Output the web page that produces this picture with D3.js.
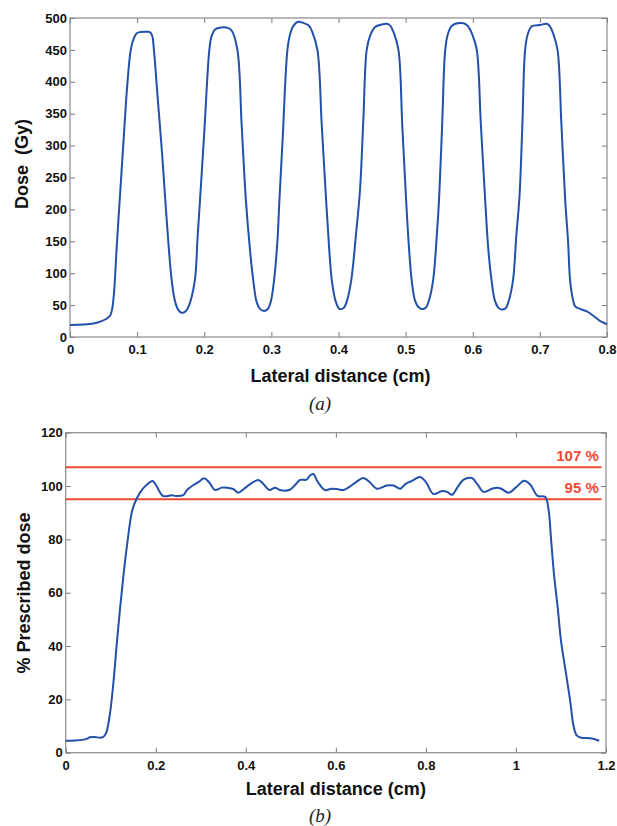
<!DOCTYPE html>
<html>
<head>
<meta charset="utf-8">
<script src="https://cdn.jsdelivr.net/npm/d3@7"></script>
<style>
  body { margin: 0; background: #fff; }
  svg { display: block; }
  .tick text { font-family: "Liberation Sans", Arial, sans-serif; font-weight: bold; font-size: 13px; fill: #111; }
  .tick line { stroke: #7a7a7a; }
  .axis-title { font-family: "Liberation Sans", Arial, sans-serif; font-weight: bold; font-size: 18px; fill: #111; }
  .caption { font-family: "Liberation Serif", "Times New Roman", serif; font-style: italic; font-size: 19px; fill: #222; }
  .limit-label { font-family: "Liberation Sans", Arial, sans-serif; font-weight: bold; font-size: 15px; fill: #ee4a33; }
</style>
</head>
<body>
<svg id="chart" width="617" height="826"></svg>
<script>
// (a) dose profile across the six beamlets
const doseX = [0, 0.02, 0.035, 0.045, 0.055, 0.06, 0.063, 0.066, 0.0695, 0.075, 0.0805, 0.0854, 0.0905, 0.095, 0.0994,
  0.105, 0.113, 0.119, 0.1225, 0.125, 0.131, 0.137, 0.1416, 0.1475, 0.1515, 0.156, 0.161, 0.1664, 0.172, 0.1775, 0.186, 0.19,
  0.1937, 0.2, 0.2076, 0.211, 0.216, 0.225, 0.235, 0.241, 0.2494, 0.2557, 0.262, 0.268, 0.273, 0.278, 0.283,
  0.288, 0.294, 0.299, 0.304, 0.309, 0.312, 0.317, 0.3239, 0.328, 0.333, 0.34, 0.348, 0.356, 0.361, 0.3686,
  0.375, 0.3815, 0.386, 0.39, 0.3955, 0.4014, 0.408, 0.413, 0.419, 0.426, 0.432, 0.437, 0.442, 0.447, 0.4545, 0.465,
  0.472, 0.477, 0.482, 0.4893, 0.495, 0.5007, 0.505, 0.509, 0.514, 0.519, 0.524, 0.53, 0.535, 0.541, 0.5465,
  0.55, 0.5545, 0.559, 0.563, 0.569, 0.581, 0.59, 0.596, 0.6, 0.606, 0.612, 0.6185, 0.623, 0.628, 0.633, 0.638,
  0.643, 0.649, 0.654, 0.66, 0.665, 0.6696, 0.674, 0.678, 0.682, 0.688, 0.7, 0.7104, 0.715, 0.72, 0.7263, 0.732,
  0.7377, 0.742, 0.745, 0.749, 0.7526, 0.76, 0.77, 0.78, 0.79, 0.797, 0.8];
const doseY = [19, 19.5, 21, 24, 29, 34, 45, 75, 140, 230, 320, 396, 450, 468, 476,
  478, 478.5, 478, 472, 450, 370, 290, 220, 135, 89, 58, 43, 38, 40, 50, 89, 155,
  215, 320, 450, 472, 482, 485, 484.5, 480, 450, 333, 215, 138, 89, 55, 44,
  41, 43, 55, 89, 150, 215, 315, 450, 475, 488, 494, 492, 488, 478, 450,
  333, 215, 140, 89, 57, 44, 46, 58, 89, 160, 230, 340, 450, 472, 486, 490,
  491, 488, 478, 450, 332, 215, 140, 89, 57, 47, 44, 46, 58, 89, 160,
  220, 335, 450, 475, 488, 492, 490, 482, 472, 450, 335, 215, 140, 89, 57, 46,
  43, 45, 58, 89, 160, 220, 335, 450, 475, 487, 489, 491, 487, 475, 450, 335,
  215, 150, 89, 60, 48, 44, 40, 33, 25, 21.5, 20];

// (b) percentage of prescribed dose
const pctX = [0, 0.02, 0.04, 0.0466, 0.054, 0.065, 0.076, 0.0836, 0.088, 0.091, 0.0985, 0.1058, 0.113, 0.1207,
  0.128, 0.1356, 0.148, 0.158, 0.169, 0.18, 0.193, 0.2, 0.2156, 0.225, 0.235, 0.245, 0.261, 0.27, 0.2837, 0.295,
  0.3073, 0.318, 0.332, 0.3467, 0.361, 0.372, 0.3836, 0.395, 0.408, 0.428, 0.44, 0.4525, 0.465, 0.476, 0.498,
  0.51, 0.5207, 0.535, 0.543, 0.5503, 0.56, 0.576, 0.59, 0.605, 0.617, 0.63, 0.645, 0.661, 0.675, 0.691,
  0.713, 0.728, 0.743, 0.755, 0.77, 0.787, 0.8, 0.817, 0.8356, 0.848, 0.858, 0.87, 0.883, 0.902, 0.915,
  0.928, 0.95, 0.965, 0.9836, 1.0, 1.0184, 1.032, 1.048, 1.065, 1.0725, 1.078, 1.085, 1.093, 1.1, 1.11,
  1.12, 1.128, 1.135, 1.145, 1.165, 1.185];
const pctY = [4.5, 4.6, 4.9, 5.2, 5.8, 5.9, 5.6, 5.9, 6.8, 7.9, 14.8, 26, 40, 54,
  66, 77, 91, 95.4, 98.5, 100.5, 101.9, 100.5, 96.3, 96.2, 96.5, 96.3, 96.6, 98.6, 100.4, 101.5,
  102.9, 101.5, 98.5, 99.4, 99.3, 98.9, 97.5, 98.8, 100.5, 102.3, 100.6, 98.5, 99.4, 98.5, 98.6,
  100.5, 102.3, 102.4, 104, 104.5, 101.5, 98.5, 99, 98.8, 98.5, 99.7, 101.5, 103, 101.5, 99,
  100.2, 100.2, 99, 100.8, 102, 103.4, 101.5, 97, 98.1, 97.7, 96.7, 99.5, 102.3, 103, 100.5,
  97.8, 99.2, 99.2, 97.5, 99.5, 102, 100.5, 96.3, 95.9, 91, 80, 66, 54, 42, 31,
  20, 10, 6.5, 5.6, 5.4, 4.5];

const limits = [107, 95];
const limitLabels = ["107 %", "95 %"];

const xTicksA = [0, 0.1, 0.2, 0.3, 0.4, 0.5, 0.6, 0.7, 0.8];
const yTicksA = [0, 50, 100, 150, 200, 250, 300, 350, 400, 450, 500];
const xTicksB = [0, 0.2, 0.4, 0.6, 0.8, 1, 1.2];
const yTicksB = [0, 20, 40, 60, 80, 100, 120];

const svg = d3.select("#chart");

function drawPanel(opts) {
  const g = svg.append("g").attr("transform", `translate(${opts.left},${opts.top})`);
  const w = opts.width, h = opts.height;

  const x = d3.scaleLinear().domain(opts.xDomain).range([0, w]);
  const y = d3.scaleLinear().domain(opts.yDomain).range([h, 0]);

  // inward ticks on all four sides, MATLAB-style
  g.append("g").attr("transform", `translate(0,${h})`)
    .call(d3.axisBottom(x).tickValues(opts.xTicks).tickSize(-5).tickPadding(8).tickFormat(d3.format("")))
    .call((a) => a.select(".domain").remove());
  g.append("g")
    .call(d3.axisTop(x).tickValues(opts.xTicks).tickSize(-5).tickFormat(""))
    .call((a) => a.select(".domain").remove());
  g.append("g")
    .call(d3.axisLeft(y).tickValues(opts.yTicks).tickSize(-5).tickPadding(3).tickFormat(d3.format("")))
    .call((a) => a.select(".domain").remove());
  g.append("g").attr("transform", `translate(${w},0)`)
    .call(d3.axisRight(y).tickValues(opts.yTicks).tickSize(-5).tickFormat(""))
    .call((a) => a.select(".domain").remove());

  g.append("rect")
    .attr("width", w)
    .attr("height", h)
    .attr("fill", "none")
    .attr("stroke", "#8a8a8a")
    .attr("stroke-width", 1.2);

  g.append("text")
    .classed("axis-title", true)
    .attr("x", w / 2 + opts.xTitleShift)
    .attr("y", opts.xTitleY - opts.top)
    .attr("text-anchor", "middle")
    .text(opts.xTitle);

  g.append("text")
    .classed("axis-title", true)
    .attr("transform", `translate(${opts.yTitleX - opts.left},${opts.yTitleMid - opts.top}) rotate(-90)`)
    .attr("text-anchor", "middle")
    .text(opts.yTitle);

  return { g, x, y };
}

// panel (a)
const pa = drawPanel({
  left: 70, top: 18, width: 537, height: 319,
  xDomain: [0, 0.8], yDomain: [0, 500],
  xTicks: xTicksA, yTicks: yTicksA,
  xTitle: "Lateral distance (cm)", xTitleY: 382, xTitleShift: 2,
  yTitle: "Dose\u00a0\u00a0(Gy)", yTitleX: 28, yTitleMid: 164
});

const lineA = d3.line()
  .x((d, i) => pa.x(doseX[i]))
  .y((d) => pa.y(d))
  .curve(d3.curveCatmullRom.alpha(0.5));

pa.g.append("path")
  .datum(doseY)
  .attr("d", lineA)
  .attr("fill", "none")
  .attr("stroke", "#2350aa")
  .attr("stroke-width", 2);

svg.append("text").classed("caption", true)
  .attr("x", 320).attr("y", 410).attr("text-anchor", "middle").text("(a)");

// panel (b)
const pb = drawPanel({
  left: 65.7, top: 432.7, width: 540.3, height: 320,
  xDomain: [0, 1.2], yDomain: [0, 120],
  xTicks: xTicksB, yTicks: yTicksB,
  xTitle: "Lateral distance (cm)", xTitleY: 795, xTitleShift: 0,
  yTitle: "% Prescribed dose", yTitleX: 30, yTitleMid: 593
});

pb.g.selectAll(".limit-line")
  .data(limits)
  .enter()
  .append("line")
  .classed("limit-line", true)
  .attr("x1", 0)
  .attr("x2", pb.x(1.19))
  .attr("y1", (d) => pb.y(d))
  .attr("y2", (d) => pb.y(d))
  .attr("stroke", "#ee4a33")
  .attr("stroke-width", 2);

pb.g.selectAll(".limit-label")
  .data(limits)
  .enter()
  .append("text")
  .classed("limit-label", true)
  .attr("x", pb.x(1.184))
  .attr("y", (d) => pb.y(d) - 6)
  .attr("text-anchor", "end")
  .text((d, i) => limitLabels[i]);

const lineB = d3.line()
  .x((d, i) => pb.x(pctX[i]))
  .y((d) => pb.y(d))
  .curve(d3.curveCatmullRom.alpha(0.5));

pb.g.append("path")
  .datum(pctY)
  .attr("d", lineB)
  .attr("fill", "none")
  .attr("stroke", "#2350aa")
  .attr("stroke-width", 2);

svg.append("text").classed("caption", true)
  .attr("x", 320).attr("y", 822).attr("text-anchor", "middle").text("(b)");
</script>
</body>
</html>
